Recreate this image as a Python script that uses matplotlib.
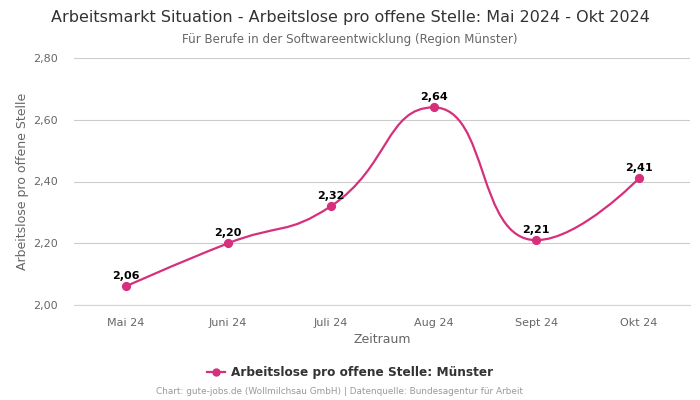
import matplotlib
matplotlib.use('Agg')
import matplotlib.pyplot as plt
from matplotlib.path import Path
from matplotlib.patches import PathPatch
from matplotlib.lines import Line2D
import numpy as np

# data
months = ['Mai 24', 'Juni 24', 'Juli 24', 'Aug 24', 'Sept 24', 'Okt 24']
values = [2.06, 2.20, 2.32, 2.64, 2.21, 2.41]
y_ticks = [2.00, 2.20, 2.40, 2.60, 2.80]

line_color = '#d62f7c'
text_gray = '#666666'

fig = plt.figure(figsize=(7, 4), dpi=100)
ax = fig.add_axes([0.106, 0.2375, 0.88, 0.6175])


# smoothed line like the original (bezier control points in pixel space)
def smooth_path(xs, ys, sx, sy, smooth=0.5):
    px = np.asarray(xs, float) * sx
    py = np.asarray(ys, float) * sy
    n = len(px)
    verts = [(px[0], py[0])]
    codes = [Path.MOVETO]
    cp0x, cp0y = px[0], py[0]
    for i in range(1, n):
        x, y = px[i], py[i]
        prevx, prevy = px[i - 1], py[i - 1]
        if i == n - 1:
            cp1x, cp1y = x, y
            ncx, ncy = x, y
        else:
            nx, ny = px[i + 1], py[i + 1]
            vx, vy = nx - prevx, ny - prevy
            lp = np.hypot(x - prevx, y - prevy)
            ln = np.hypot(nx - x, ny - y)
            r = ln / (ln + lp)
            ncx = x + vx * smooth * r
            ncy = y + vy * smooth * r
            ncx = max(min(ncx, max(nx, x)), min(nx, x))
            ncy = max(min(ncy, max(ny, y)), min(ny, y))
            vx, vy = ncx - x, ncy - y
            cp1x = x - vx * lp / ln
            cp1y = y - vy * lp / ln
            cp1x = max(min(cp1x, max(prevx, x)), min(prevx, x))
            cp1y = max(min(cp1y, max(prevy, y)), min(prevy, y))
            vx, vy = x - cp1x, y - cp1y
            ncx = x + vx * ln / lp
            ncy = y + vy * ln / lp
        verts += [(cp0x, cp0y), (cp1x, cp1y), (x, y)]
        codes += [Path.CURVE4] * 3
        cp0x, cp0y = ncx, ncy
    verts = np.array(verts)
    verts[:, 0] /= sx
    verts[:, 1] /= sy
    return Path(verts, codes)


x = np.arange(len(months))
path = smooth_path(x, values, 102.7, 308.75)
ax.add_patch(PathPatch(path, facecolor='none', edgecolor=line_color, lw=1.6, zorder=3))
ax.plot(x, values, 'o', color=line_color, markersize=5.6, zorder=4)

for xi, v in zip(x, values):
    ax.annotate(f'{v:.2f}'.replace('.', ','), (xi, v), xytext=(0, 4),
                textcoords='offset points', ha='center', va='bottom',
                fontsize=8, fontweight='bold', color='black', zorder=5)

ax.set_xlim(-0.5, len(months) - 0.5)
ax.set_ylim(2.0, 2.8)
ax.set_xticks(x)
ax.set_xticklabels(months)
ax.set_yticks(y_ticks)
ax.set_yticklabels([f'{t:.2f}'.replace('.', ',') for t in y_ticks])
ax.tick_params(axis='both', length=0, labelsize=8, labelcolor=text_gray)
ax.tick_params(axis='x', pad=9)
ax.tick_params(axis='y', pad=12)
ax.grid(axis='y', color='#cccccc', lw=0.8)
ax.set_axisbelow(True)
for s in ['top', 'right', 'left']:
    ax.spines[s].set_visible(False)
ax.spines['bottom'].set_color('#ccd6eb')
ax.spines['bottom'].set_linewidth(0.8)

ax.set_xlabel('Zeitraum', fontsize=9, color=text_gray, labelpad=4)
ax.set_ylabel('Arbeitslose pro offene Stelle', fontsize=9, color=text_gray, labelpad=3)

fig.text(0.5, 0.957, 'Arbeitsmarkt Situation - Arbeitslose pro offene Stelle: Mai 2024 - Okt 2024',
         ha='center', va='center', fontsize=11.5, color='#333333')
fig.text(0.5, 0.902, 'Für Berufe in der Softwareentwicklung (Region Münster)',
         ha='center', va='center', fontsize=8.6, color=text_gray)

handle = Line2D([], [], color=line_color, marker='o', markersize=5, lw=1.6)
fig.legend([handle], ['Arbeitslose pro offene Stelle: Münster'], loc='center',
           bbox_to_anchor=(0.5, 0.068), frameon=False, handlelength=1.5,
           handletextpad=0.5, prop={'size': 8.7, 'weight': 'bold'}, labelcolor='#333333')

fig.text(0.485, 0.02, 'Chart: gute-jobs.de (Wollmilchsau GmbH) | Datenquelle: Bundesagentur für Arbeit',
         ha='center', va='center', fontsize=6.4, color='#999999')

fig.savefig('out.png', dpi=100)
